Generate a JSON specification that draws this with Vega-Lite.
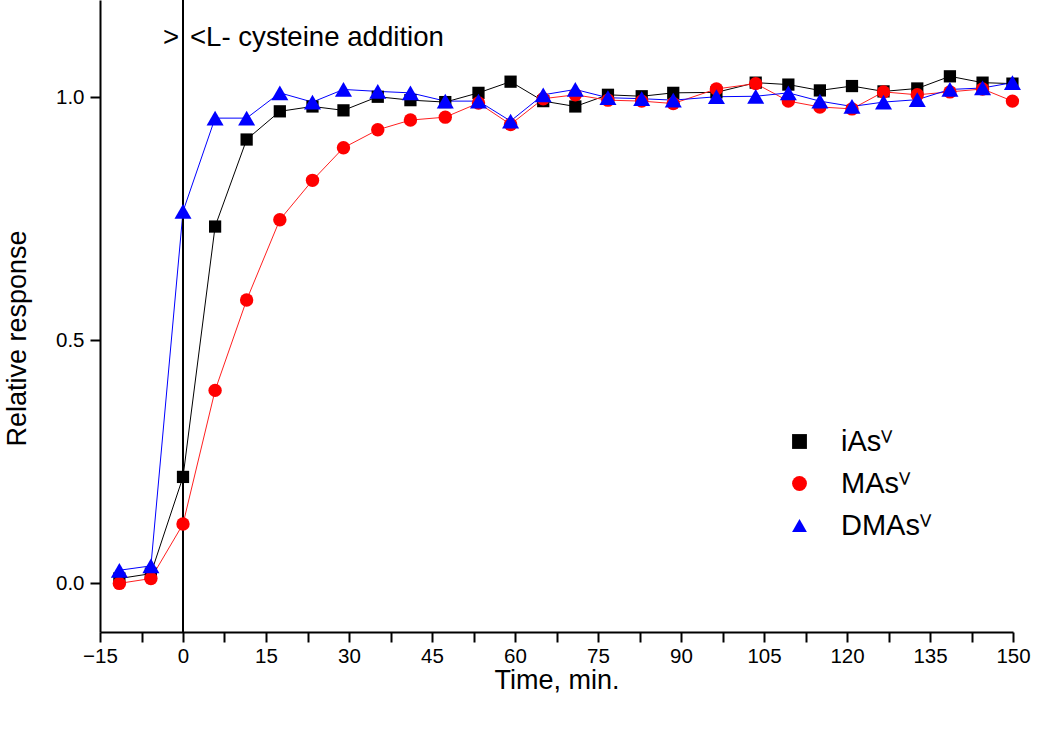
{
  "$schema": "https://vega.github.io/schema/vega-lite/v6.json",
  "width": 913,
  "height": 632,
  "autosize": "none",
  "padding": {"left": 100, "top": 0, "right": 37, "bottom": 97},
  "background": "white",
  "config": {"view": {"stroke": null}, "font": "Liberation Sans"},
  "datasets": {
    "series": [
      {"series": "iAs", "time": -11.5, "value": 0.01},
      {"series": "iAs", "time": -5.8, "value": 0.02},
      {"series": "iAs", "time": 0, "value": 0.219},
      {"series": "iAs", "time": 5.8, "value": 0.734},
      {"series": "iAs", "time": 11.5, "value": 0.913},
      {"series": "iAs", "time": 17.5, "value": 0.971},
      {"series": "iAs", "time": 23.4, "value": 0.981},
      {"series": "iAs", "time": 29, "value": 0.973},
      {"series": "iAs", "time": 35.2, "value": 1.001},
      {"series": "iAs", "time": 41.1, "value": 0.994},
      {"series": "iAs", "time": 47.4, "value": 0.99},
      {"series": "iAs", "time": 53.4, "value": 1.009},
      {"series": "iAs", "time": 59.2, "value": 1.032},
      {"series": "iAs", "time": 65.1, "value": 0.992},
      {"series": "iAs", "time": 70.9, "value": 0.981},
      {"series": "iAs", "time": 76.8, "value": 1.005},
      {"series": "iAs", "time": 82.9, "value": 1.002},
      {"series": "iAs", "time": 88.6, "value": 1.009},
      {"series": "iAs", "time": 96.4, "value": 1.01},
      {"series": "iAs", "time": 103.5, "value": 1.03},
      {"series": "iAs", "time": 109.4, "value": 1.026},
      {"series": "iAs", "time": 115.1, "value": 1.014},
      {"series": "iAs", "time": 120.9, "value": 1.023},
      {"series": "iAs", "time": 126.6, "value": 1.012},
      {"series": "iAs", "time": 132.7, "value": 1.018},
      {"series": "iAs", "time": 138.6, "value": 1.043},
      {"series": "iAs", "time": 144.5, "value": 1.03},
      {"series": "iAs", "time": 149.9, "value": 1.028},
      {"series": "MAs", "time": -11.5, "value": 0.0},
      {"series": "MAs", "time": -5.8, "value": 0.01},
      {"series": "MAs", "time": 0, "value": 0.122},
      {"series": "MAs", "time": 5.8, "value": 0.397},
      {"series": "MAs", "time": 11.5, "value": 0.583},
      {"series": "MAs", "time": 17.5, "value": 0.748},
      {"series": "MAs", "time": 23.4, "value": 0.829},
      {"series": "MAs", "time": 29, "value": 0.896},
      {"series": "MAs", "time": 35.2, "value": 0.933},
      {"series": "MAs", "time": 41.1, "value": 0.953},
      {"series": "MAs", "time": 47.4, "value": 0.959},
      {"series": "MAs", "time": 53.4, "value": 0.988},
      {"series": "MAs", "time": 59.2, "value": 0.944},
      {"series": "MAs", "time": 65.1, "value": 0.997},
      {"series": "MAs", "time": 70.9, "value": 1.005},
      {"series": "MAs", "time": 76.8, "value": 0.994},
      {"series": "MAs", "time": 82.9, "value": 0.992},
      {"series": "MAs", "time": 88.6, "value": 0.987},
      {"series": "MAs", "time": 96.4, "value": 1.017},
      {"series": "MAs", "time": 103.5, "value": 1.028},
      {"series": "MAs", "time": 109.4, "value": 0.992},
      {"series": "MAs", "time": 115.1, "value": 0.98},
      {"series": "MAs", "time": 120.9, "value": 0.976},
      {"series": "MAs", "time": 126.6, "value": 1.011},
      {"series": "MAs", "time": 132.7, "value": 1.005},
      {"series": "MAs", "time": 138.6, "value": 1.011},
      {"series": "MAs", "time": 144.5, "value": 1.017},
      {"series": "MAs", "time": 149.9, "value": 0.992},
      {"series": "DMAs", "time": -11.5, "value": 0.027},
      {"series": "DMAs", "time": -5.8, "value": 0.036},
      {"series": "DMAs", "time": 0, "value": 0.765},
      {"series": "DMAs", "time": 5.8, "value": 0.957},
      {"series": "DMAs", "time": 11.5, "value": 0.957},
      {"series": "DMAs", "time": 17.5, "value": 1.009},
      {"series": "DMAs", "time": 23.4, "value": 0.99},
      {"series": "DMAs", "time": 29, "value": 1.016},
      {"series": "DMAs", "time": 35.2, "value": 1.012},
      {"series": "DMAs", "time": 41.1, "value": 1.009},
      {"series": "DMAs", "time": 47.4, "value": 0.992},
      {"series": "DMAs", "time": 53.4, "value": 0.992},
      {"series": "DMAs", "time": 59.2, "value": 0.951},
      {"series": "DMAs", "time": 65.1, "value": 1.005},
      {"series": "DMAs", "time": 70.9, "value": 1.016},
      {"series": "DMAs", "time": 76.8, "value": 0.999},
      {"series": "DMAs", "time": 82.9, "value": 0.997},
      {"series": "DMAs", "time": 88.6, "value": 0.994},
      {"series": "DMAs", "time": 96.4, "value": 1.001},
      {"series": "DMAs", "time": 103.5, "value": 1.002},
      {"series": "DMAs", "time": 109.4, "value": 1.009},
      {"series": "DMAs", "time": 115.1, "value": 0.992},
      {"series": "DMAs", "time": 120.9, "value": 0.981},
      {"series": "DMAs", "time": 126.6, "value": 0.99},
      {"series": "DMAs", "time": 132.7, "value": 0.995},
      {"series": "DMAs", "time": 138.6, "value": 1.016},
      {"series": "DMAs", "time": 144.5, "value": 1.019},
      {"series": "DMAs", "time": 149.9, "value": 1.03}
    ],
    "annotation": [{"marker": 0, "level": 1.105, "left": ">", "right": "<L- cysteine addition"}]
  },
  "layer": [
    {
      "data": {"name": "series"},
      "transform": [{"filter": "datum.series === 'iAs'"}],
      "mark": {"type": "line", "strokeWidth": 1, "color": "#000000", "clip": true},
      "encoding": {
        "x": {
          "field": "time", "type": "quantitative",
          "scale": {"domain": [-15, 150], "nice": false, "zero": false},
          "axis": {
            "values": [-15, -7.5, 0, 7.5, 15, 22.5, 30, 37.5, 45, 52.5, 60, 67.5, 75, 82.5, 90, 97.5, 105, 112.5, 120, 127.5, 135, 142.5, 150],
            "labelExpr": "datum.value % 15 === 0 ? datum.label : ''",
            "labelOverlap": false,
            "labelFlush": false,
            "tickSize": 10,
            "encode": {"ticks": {"update": {"y2": {"signal": "datum.value % 15 === 0 ? 10 : 5"}}}},
            "tickWidth": 2, "tickColor": "black",
            "domainColor": "black", "domainWidth": 2,
            "labelFontSize": 20.5, "labelColor": "black", "labelPadding": 4,
            "grid": false,
            "title": "Time, min.", "titleFontSize": 27, "titleFontWeight": "normal", "titleColor": "black", "titlePadding": 1
          }
        },
        "y": {
          "field": "value", "type": "quantitative",
          "scale": {"domain": [-0.1, 1.2], "nice": false, "zero": false},
          "axis": {
            "values": [0, 0.5, 1], "format": ".1f",
            "tickSize": 10, "tickWidth": 2, "tickColor": "black",
            "domainColor": "black", "domainWidth": 2,
            "labelFontSize": 20.5, "labelColor": "black", "labelPadding": 6,
            "grid": false,
            "title": "Relative response", "titleFontSize": 27, "titleFontWeight": "normal", "titleColor": "black",
            "titleX": -69, "titleY": 338
          }
        }
      }
    },
    {
      "data": {"name": "series"},
      "transform": [{"filter": "datum.series === 'MAs'"}],
      "mark": {"type": "line", "strokeWidth": 1, "color": "#ff2020", "clip": true},
      "encoding": {
        "x": {"field": "time", "type": "quantitative"},
        "y": {"field": "value", "type": "quantitative"}
      }
    },
    {
      "data": {"name": "series"},
      "transform": [{"filter": "datum.series === 'DMAs'"}],
      "mark": {"type": "line", "strokeWidth": 1, "color": "#0000ff", "clip": true},
      "encoding": {
        "x": {"field": "time", "type": "quantitative"},
        "y": {"field": "value", "type": "quantitative"}
      }
    },
    {
      "data": {"name": "annotation"},
      "mark": {"type": "rule", "color": "black", "strokeWidth": 2},
      "encoding": {"x": {"field": "marker", "type": "quantitative"}}
    },
    {
      "data": {"name": "annotation"},
      "mark": {"type": "text", "align": "right", "baseline": "alphabetic", "dx": -4, "fontSize": 27.6, "color": "black"},
      "encoding": {
        "x": {"field": "marker", "type": "quantitative"},
        "y": {"field": "level", "type": "quantitative"},
        "text": {"field": "left"}
      }
    },
    {
      "data": {"name": "annotation"},
      "mark": {"type": "text", "align": "left", "baseline": "alphabetic", "dx": 7, "fontSize": 27.6, "color": "black"},
      "encoding": {
        "x": {"field": "marker", "type": "quantitative"},
        "y": {"field": "level", "type": "quantitative"},
        "text": {"field": "right"}
      }
    },
    {
      "data": {"name": "series"},
      "mark": {"type": "point", "filled": true, "opacity": 1, "strokeWidth": 0},
      "encoding": {
        "x": {"field": "time", "type": "quantitative"},
        "y": {"field": "value", "type": "quantitative"},
        "size": {"condition": [{"test": "datum.series === 'iAs'", "value": 150}, {"test": "datum.series === 'MAs'", "value": 180}], "value": 290},
        "color": {
          "field": "series", "type": "nominal",
          "scale": {"domain": ["iAs", "MAs", "DMAs"], "range": ["#000000", "#ff0000", "#0000ff"]},
          "legend": {
            "title": null, "orient": "none", "legendX": 685, "legendY": 427,
            "symbolSize": 220, "symbolStrokeWidth": 0, "symbolOpacity": 1,
            "labelFontSize": 29, "labelFont": "Liberation Sans", "labelColor": "black",
            "labelOffset": 27, "rowPadding": 12, "labelExpr": "datum.label + 'ⱽ'"
          }
        },
        "shape": {
          "field": "series", "type": "nominal",
          "scale": {"domain": ["iAs", "MAs", "DMAs"], "range": ["square", "circle", "triangle-up"]},
          "legend": {
            "title": null, "orient": "none", "legendX": 685, "legendY": 427,
            "symbolSize": 220, "symbolStrokeWidth": 0, "symbolOpacity": 1,
            "labelFontSize": 29, "labelFont": "Liberation Sans", "labelColor": "black",
            "labelOffset": 27, "rowPadding": 12, "labelExpr": "datum.label + 'ⱽ'"
          }
        }
      }
    }
  ]
}
